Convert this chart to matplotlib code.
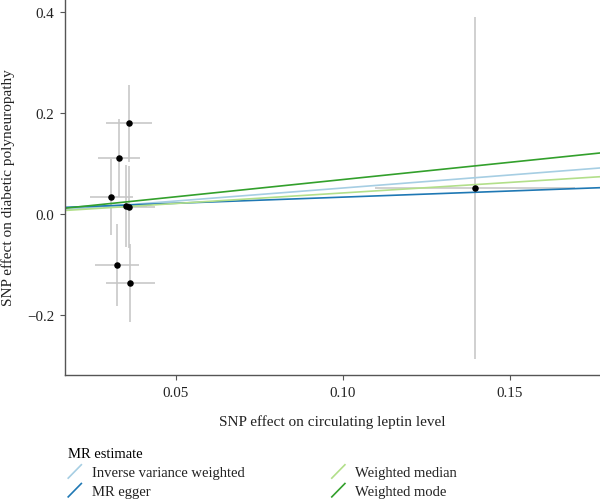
import matplotlib
matplotlib.use("Agg")
import matplotlib.pyplot as plt
from matplotlib.lines import Line2D
from matplotlib.legend_handler import HandlerBase

plt.rcParams['font.family'] = ['Liberation Serif', 'DejaVu Serif']

# SNP effects (exposure = leptin, outcome = diabetic polyneuropathy)
bx = [0.0360, 0.0330, 0.0307, 0.0350, 0.0359, 0.0325, 0.0364, 0.1395]
bx_se = [0.0068, 0.0062, 0.0065, 0.0065, 0.0077, 0.0066, 0.0073, 0.0300]
by = [0.180, 0.111, 0.034, 0.0165, 0.0139, -0.101, -0.137, 0.052]
by_se = [0.076, 0.078, 0.076, 0.081, 0.081, 0.081, 0.078, 0.339]

# MR estimates: (label, intercept, slope, colour)
methods = ['Inverse variance weighted', 'MR egger', 'Weighted median', 'Weighted mode']
intercepts = [0.0, 0.0092, 0.0, 0.0]
slopes = [0.516, 0.243, 0.418, 0.684]
colours = ['#a6cee3', '#1f78b4', '#b2df8a', '#33a02c']

x_ticks = [0.05, 0.10, 0.15]
x_ticklabels = ['0.05', '0.10', '0.15']
y_ticks = [-0.2, 0.0, 0.2, 0.4]
y_ticklabels = ['\u22120.2', '0.0', '0.2', '0.4']


class DiagHandler(HandlerBase):
    # ggplot style abline key: a diagonal stroke
    def create_artists(self, legend, orig, xd, yd, w, h, fs, trans):
        ln = Line2D([-xd, -xd + w], [-yd - 0.15 * h, -yd + 1.05 * h],
                    color=orig.get_color(), lw=orig.get_linewidth())
        ln.set_transform(trans)
        return [ln]


fig = plt.figure(figsize=(6.0, 5.02), dpi=100)
ax = fig.add_axes([65 / 600, 1 - 376 / 502, 535 / 600, 376 / 502])

ax.errorbar(bx, by, yerr=by_se, fmt='none', ecolor='#c4c4c4', elinewidth=1.1, capsize=0, zorder=1)
ax.errorbar(bx, by, xerr=bx_se, fmt='none', ecolor='#c4c4c4', elinewidth=1.1, capsize=0, zorder=1)

handles = []
for m, a, b, c in zip(methods, intercepts, slopes, colours):
    ax.axline((0, a), slope=b, color=c, lw=1.2, zorder=2)
    handles.append(Line2D([], [], color=c, lw=1.2, label=m))

ax.scatter(bx, by, s=22, color='black', zorder=3, linewidths=0)

ax.set_xlim(0.0168, 0.177)
ax.set_ylim(-0.3194, 0.4266)
ax.set_xticks(x_ticks)
ax.set_xticklabels(x_ticklabels)
ax.set_yticks(y_ticks)
ax.set_yticklabels(y_ticklabels)

for s in ['top', 'right']:
    ax.spines[s].set_visible(False)
for s in ['left', 'bottom']:
    ax.spines[s].set_color('#555555')
    ax.spines[s].set_linewidth(1.0)
ax.tick_params(colors='#555555', labelcolor='#222222', length=3.6, width=0.8, labelsize=10.8, pad=4)

ax.set_xlabel('SNP effect on circulating leptin level', fontsize=11, color='#222222')
ax.set_ylabel('SNP effect on diabetic polyneuropathy', fontsize=11, color='#222222')
ax.xaxis.set_label_coords(0.5, -0.104)
ax.yaxis.set_label_coords(-0.0935, 0.5)

leg = fig.legend(handles=handles, handler_map={Line2D: DiagHandler()}, ncol=2,
                 loc='upper left', bbox_to_anchor=(58 / 600, 1 - 438 / 502),
                 frameon=False, title='MR estimate', alignment='left',
                 fontsize=10.5, title_fontsize=10.5, handlelength=0.9, handleheight=0.8,
                 handletextpad=0.7, labelspacing=0.35, columnspacing=6.0, borderpad=0.2)
for t in leg.get_texts():
    t.set_color('#222222')

fig.savefig('out.png', dpi=100)
